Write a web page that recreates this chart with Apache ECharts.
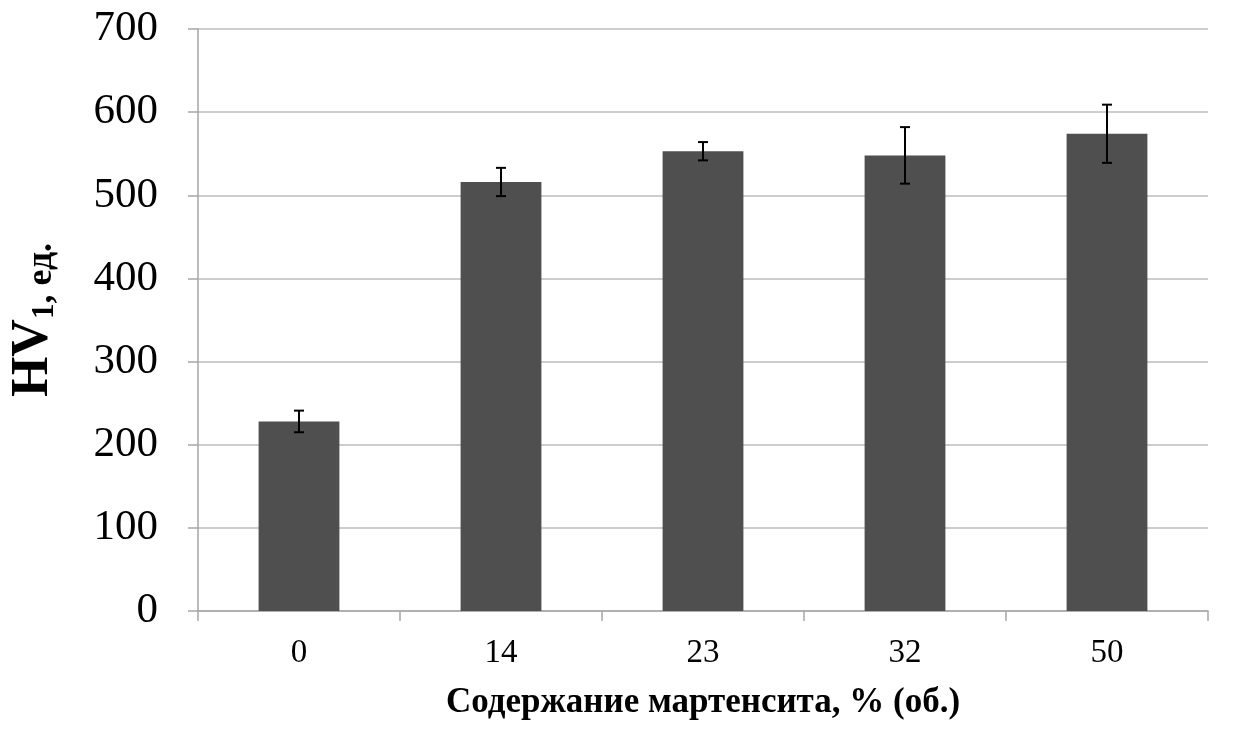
<!DOCTYPE html>
<html>
<head>
<meta charset="utf-8">
<script src="https://cdn.jsdelivr.net/npm/echarts@6/dist/echarts.min.js"></script>
<style>
  html, body { margin: 0; padding: 0; background: #fff; }
  #chart { width: 1254px; height: 752px; }
</style>
</head>
<body>
<div id="chart"></div>
<script>
// martensite content, % (vol.)
var categories = ['0', '14', '23', '32', '50'];
// HV1 hardness, mean values
var hardness = [228, 516, 553, 548, 574];
// half-width of the error bar
var errors = [13, 17, 11, 34, 35];

var yTicks = [0, 100, 200, 300, 400, 500, 600, 700];

var serif = '"Liberation Serif", "DejaVu Serif", serif';

var errData = categories.map(function (c, i) {
  return [i, hardness[i] - errors[i], hardness[i] + errors[i]];
});

function renderErr(params, api) {
  var x = api.value(0);
  var lo = api.coord([x, api.value(1)]);
  var hi = api.coord([x, api.value(2)]);
  var half = 5;
  var style = { stroke: '#000', lineWidth: 2 };
  return {
    type: 'group',
    children: [
      { type: 'line', shape: { x1: hi[0], y1: hi[1], x2: lo[0], y2: lo[1] }, style: style },
      { type: 'line', shape: { x1: hi[0] - half, y1: hi[1], x2: hi[0] + half, y2: hi[1] }, style: style },
      { type: 'line', shape: { x1: lo[0] - half, y1: lo[1], x2: lo[0] + half, y2: lo[1] }, style: style }
    ]
  };
}

var chart = echarts.init(document.getElementById('chart'));

chart.setOption({
  backgroundColor: '#fff',
  animation: false,
  grid: { left: 193, right: 46, top: 29, bottom: 141, containLabel: false },
  xAxis: {
    type: 'category',
    data: categories,
    name: 'Содержание мартенсита, % (об.)',
    nameLocation: 'middle',
    nameGap: 74,
    nameTextStyle: { fontFamily: serif, fontSize: 35, fontWeight: 'bold', color: '#000' },
    axisLine: { lineStyle: { color: '#a6a6a6', width: 1.5 } },
    axisTick: { show: true, length: 10, alignWithLabel: false, lineStyle: { color: '#a6a6a6', width: 1.5 } },
    axisLabel: { fontFamily: serif, fontSize: 33, color: '#000', margin: 26 }
  },
  yAxis: {
    type: 'value',
    min: yTicks[0],
    max: yTicks[yTicks.length - 1],
    interval: 100,
    name: '{hv|HV}{sub|1}{rest|, ед.}',
    nameLocation: 'middle',
    nameGap: 138,
    nameRotate: 90,
    nameTextStyle: {
      color: '#000',
      rich: {
        hv: { fontFamily: serif, fontSize: 52, fontWeight: 'bold', color: '#000', verticalAlign: 'bottom' },
        sub: { fontFamily: serif, fontSize: 31, fontWeight: 'bold', color: '#000', verticalAlign: 'bottom' },
        rest: { fontFamily: serif, fontSize: 36, fontWeight: 'bold', color: '#000', verticalAlign: 'bottom' }
      }
    },
    axisLine: { show: true, lineStyle: { color: '#a6a6a6', width: 1.5 } },
    axisTick: { show: true, length: 10, lineStyle: { color: '#a6a6a6', width: 1.5 } },
    axisLabel: { fontFamily: serif, fontSize: 43, color: '#000', margin: 40 },
    splitLine: { show: true, lineStyle: { color: '#bdbdbd', width: 1.5 } }
  },
  series: [
    {
      type: 'bar',
      data: hardness,
      barWidth: '40%',
      itemStyle: { color: '#4f4f4f' }
    },
    {
      type: 'custom',
      renderItem: renderErr,
      data: errData,
      encode: { x: 0, y: [1, 2] },
      z: 10
    }
  ]
});
</script>
</body>
</html>
